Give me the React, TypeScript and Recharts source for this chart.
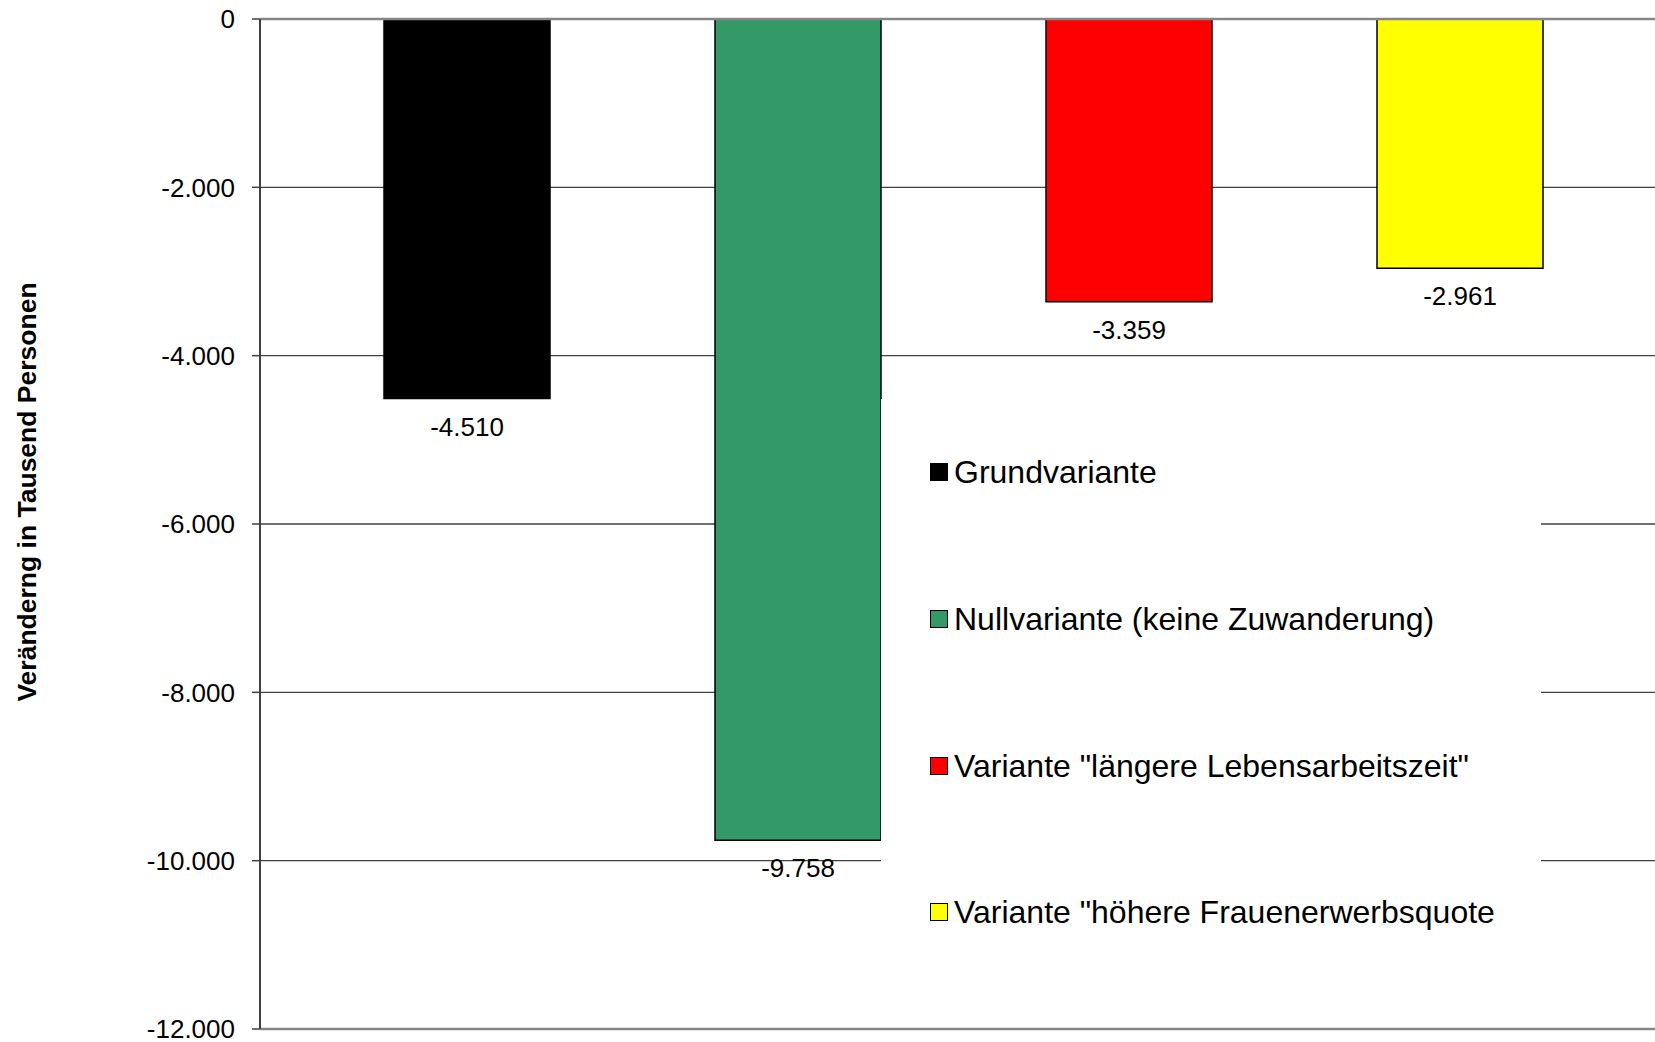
import React from 'react';
import { BarChart, Bar, XAxis, YAxis, CartesianGrid, ReferenceLine, Legend, LabelList } from 'recharts';

const categories = [''];
const seriesKeys = ['grund', 'null', 'laenger', 'frauen'];
const seriesNames = [
  'Grundvariante',
  'Nullvariante (keine Zuwanderung)',
  'Variante "längere Lebensarbeitszeit"',
  'Variante "höhere Frauenerwerbsquote',
];
const seriesValues = [-4510, -9758, -3359, -2961];
const seriesColors = ['#000000', '#339966', '#FF0000', '#FFFF00'];
const yTicks = [-12000, -10000, -8000, -6000, -4000, -2000, 0];
const yAxisTitle = 'Veränderng in Tausend Personen';

const data = categories.map((name) => {
  const row: Record<string, number | string> = { name };
  seriesKeys.forEach((k, i) => {
    row[k] = seriesValues[i];
  });
  return row;
});

const FONT = '"Liberation Sans", Arial, Helvetica, sans-serif';

const fmt = (v: number | string) => {
  const n = Number(v);
  const neg = n < 0;
  const s = Math.abs(Math.round(n)).toString().replace(/\B(?=(\d{3})+(?!\d))/g, '.');
  return (neg ? '-' : '') + s;
};

const renderValueLabel = (props: any) => {
  const { x, y, width, height, value } = props;
  const end = Math.max(Number(y), Number(y) + Number(height));
  return (
    <text
      x={Number(x) + Number(width) / 2}
      y={end + 28}
      textAnchor="middle"
      dominantBaseline="central"
      fontSize={26}
      fontFamily={FONT}
      fill="#000"
    >
      {fmt(value)}
    </text>
  );
};

const LegendContent = () => (
  <div style={{ width: '100%', height: '100%', background: '#fff', fontFamily: FONT }}>
    {seriesNames.map((n, i) => (
      <div
        key={n}
        style={{
          height: 146.7,
          display: 'flex',
          alignItems: 'center',
          paddingLeft: 49,
          boxSizing: 'border-box',
        }}
      >
        <div
          style={{
            width: 18,
            height: 18,
            boxSizing: 'border-box',
            border: '1.5px solid #000',
            background: seriesColors[i],
            marginRight: 6,
            flex: 'none',
          }}
        />
        <span style={{ fontSize: 32, color: '#000', whiteSpace: 'nowrap', lineHeight: 1 }}>{n}</span>
      </div>
    ))}
  </div>
);

export default function App() {
  return (
    <div
      style={{
        position: 'absolute',
        left: 0,
        top: 0,
        width: 1655,
        height: 1042,
        overflow: 'hidden',
        background: '#fff',
      }}
    >
      <BarChart
        width={1655}
        height={1042}
        data={data}
        margin={{ top: 19, right: 0, bottom: 13, left: 0 }}
        barSize={166}
        barGap={165}
      >
        <CartesianGrid vertical={false} stroke="#404040" strokeWidth={1.3} />
        <XAxis dataKey="name" hide padding={{ left: 11, right: 0 }} />
        <YAxis
          width={260}
          domain={[-12000, 0]}
          ticks={yTicks}
          interval={0}
          tickFormatter={fmt}
          tickSize={8}
          tickMargin={17}
          axisLine={{ stroke: '#404040', strokeWidth: 2 }}
          tickLine={{ stroke: '#404040', strokeWidth: 1.5 }}
          tick={{ fontSize: 26, fontFamily: FONT, fill: '#000' }}
          label={{
            content: () => (
              <text
                x={27}
                y={492}
                transform="rotate(-90 27 492)"
                textAnchor="middle"
                dominantBaseline="central"
                fontSize={26.5}
                fontWeight="bold"
                fontFamily={FONT}
                fill="#000"
              >
                {yAxisTitle}
              </text>
            ),
          }}
        />
        {seriesKeys.map((k, i) => (
          <Bar
            key={k}
            dataKey={k}
            name={seriesNames[i]}
            fill={seriesColors[i]}
            stroke="#000"
            strokeWidth={1.5}
            isAnimationActive={false}
          >
            <LabelList dataKey={k} content={renderValueLabel} />
          </Bar>
        ))}
        <ReferenceLine y={0} stroke="#868686" strokeWidth={2.5} />
        <ReferenceLine y={-12000} stroke="#868686" strokeWidth={2.5} />
        <Legend
          layout="horizontal"
          verticalAlign="middle"
          align="center"
          content={<LegendContent />}
          wrapperStyle={{ left: 881, top: 399, width: 660, height: 588, background: '#fff' }}
        />
      </BarChart>
    </div>
  );
}
